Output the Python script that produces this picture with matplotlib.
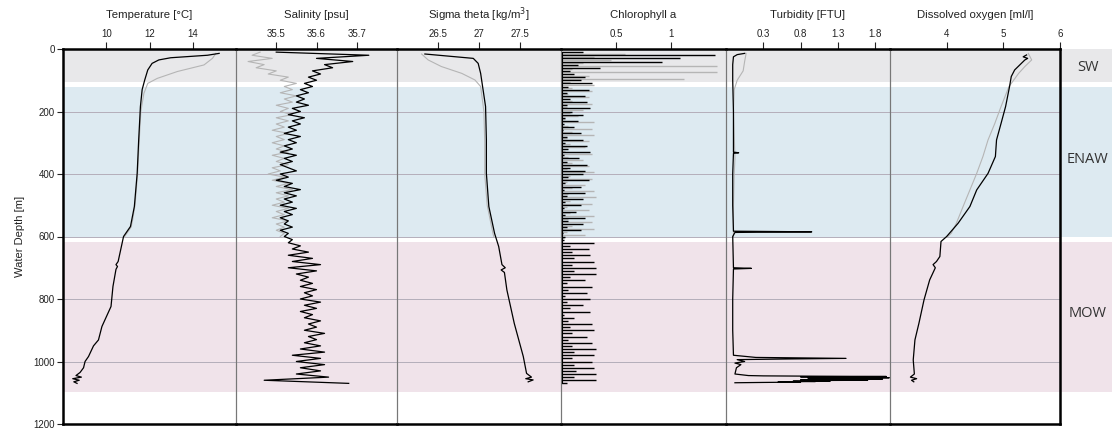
import matplotlib.pyplot as plt
import numpy as np

plt.rcParams['font.family'] = ['Liberation Sans', 'DejaVu Sans']

# water masses (depth ranges in m)
mass_names = ['SW', 'ENAW', 'MOW']
mass_top = [0, 120, 616]
mass_bottom = [105, 600, 1096]
mass_label_depth = [58, 355, 845]
mass_colors = ['#e8e8ea', '#ddeaf1', '#f0e3ea']

# Temperature [°C]
temp_depth_black = [14, 20, 28, 35, 46, 67, 99, 130, 184, 291, 398, 504, 568, 600, 632, 680, 690, 696,
                    705, 760, 824, 888, 931, 950, 984, 1000, 1020, 1035, 1045, 1050, 1055, 1060, 1065, 1070]
temp_black = [15.22, 14.68, 12.98, 12.43, 12.12, 11.92, 11.78, 11.66, 11.58, 11.50, 11.43, 11.30, 11.12,
              10.80, 10.70, 10.55, 10.45, 10.52, 10.45, 10.31, 10.22, 9.80, 9.64, 9.41, 9.18, 9.02, 8.95,
              8.79, 8.60, 8.85, 8.45, 8.75, 8.50, 8.65]
temp_depth_grey = [14, 30, 51, 72, 94, 110, 142, 200, 300, 400, 500, 547, 570, 600]
temp_grey = [15.07, 14.91, 14.52, 13.29, 12.36, 11.92, 11.74, 11.60, 11.52, 11.45, 11.33, 11.22, 11.15, 10.85]

# Salinity [psu], every 10 m
sal_depth_black = list(range(10, 1080, 10))
sal_black = [35.50, 35.73, 35.60, 35.69, 35.62, 35.64, 35.59, 35.61, 35.58, 35.60,
             35.57, 35.59, 35.56, 35.58, 35.55, 35.57, 35.55, 35.58, 35.54, 35.56,
             35.53, 35.57, 35.54, 35.56, 35.53, 35.55, 35.52, 35.56, 35.53, 35.55,
             35.52, 35.54, 35.51, 35.55, 35.52, 35.54, 35.51, 35.53, 35.55, 35.51,
             35.53, 35.50, 35.54, 35.52, 35.56, 35.52, 35.55, 35.52, 35.54, 35.51,
             35.55, 35.52, 35.54, 35.51, 35.53, 35.52, 35.54, 35.51, 35.53, 35.52,
             35.54, 35.53, 35.56, 35.54, 35.58, 35.53, 35.59, 35.54, 35.61, 35.53,
             35.60, 35.55, 35.58, 35.56, 35.59, 35.56, 35.60, 35.57, 35.59, 35.56,
             35.61, 35.57, 35.60, 35.56, 35.59, 35.57, 35.61, 35.58, 35.60, 35.57,
             35.62, 35.58, 35.60, 35.57, 35.61, 35.56, 35.62, 35.54, 35.61, 35.55,
             35.62, 35.56, 35.61, 35.55, 35.63, 35.47, 35.68]
sal_depth_grey = list(range(10, 610, 10))
sal_grey = [35.46, 35.44, 35.49, 35.43, 35.47, 35.45, 35.50, 35.48, 35.53, 35.51,
            35.55, 35.52, 35.54, 35.51, 35.55, 35.52, 35.54, 35.50, 35.53, 35.51,
            35.54, 35.50, 35.53, 35.50, 35.52, 35.49, 35.53, 35.50, 35.52, 35.49,
            35.52, 35.50, 35.53, 35.49, 35.52, 35.50, 35.53, 35.49, 35.51, 35.48,
            35.52, 35.49, 35.53, 35.50, 35.54, 35.50, 35.53, 35.50, 35.52, 35.49,
            35.53, 35.50, 35.52, 35.49, 35.53, 35.50, 35.52, 35.50, 35.52, 35.51]

# Sigma theta [kg/m3]
sig_depth_black = [16, 30, 46, 78, 131, 184, 291, 398, 504, 590, 632, 690, 700, 707, 715, 771, 878, 984,
                   1038, 1050, 1055, 1059, 1065]
sig_black = [26.34, 26.93, 26.99, 27.02, 27.05, 27.08, 27.09, 27.09, 27.12, 27.19, 27.24, 27.28, 27.32,
             27.27, 27.31, 27.34, 27.43, 27.54, 27.58, 27.64, 27.57, 27.66, 27.60]
sig_depth_grey = [16, 35, 56, 78, 99, 120, 200, 300, 400, 500, 590, 600]
sig_grey = [26.30, 26.38, 26.54, 26.79, 26.95, 27.02, 27.06, 27.07, 27.07, 27.10, 27.17, 27.18]

# Chlorophyll a, spike length every 10 m
chl_depth_black = list(range(10, 1080, 10))
chl_black = [0.20, 1.40, 1.08, 0.92, 0.15, 0.35, 0.08, 0.12, 0.22, 0.18,
             0.28, 0.06, 0.25, 0.05, 0.22, 0.08, 0.24, 0.05, 0.26, 0.10,
             0.20, 0.04, 0.15, 0.03, 0.12, 0.02, 0.18, 0.05, 0.20, 0.04,
             0.24, 0.06, 0.26, 0.03, 0.16, 0.05, 0.24, 0.08, 0.22, 0.20,
             0.06, 0.25, 0.04, 0.18, 0.03, 0.22, 0.05, 0.20, 0.04, 0.18,
             0.03, 0.14, 0.04, 0.22, 0.06, 0.20, 0.05, 0.18, 0.02, 0.04,
             0.03, 0.30, 0.08, 0.25, 0.10, 0.26, 0.12, 0.30, 0.10, 0.32,
             0.12, 0.32, 0.08, 0.22, 0.05, 0.28, 0.06, 0.24, 0.04, 0.26,
             0.05, 0.20, 0.08, 0.26, 0.03, 0.12, 0.06, 0.28, 0.08, 0.30,
             0.10, 0.24, 0.06, 0.28, 0.10, 0.32, 0.12, 0.30, 0.10, 0.28,
             0.12, 0.30, 0.14, 0.32, 0.12, 0.32, 0.05]
chl_depth_grey = list(range(15, 615, 10))
chl_grey = [0.58, 0.30, 0.45, 0.20, 1.42, 0.10, 1.42, 0.25, 1.12, 0.08,
            0.30, 0.10, 0.28, 0.06, 0.25, 0.10, 0.28, 0.05, 0.20, 0.08,
            0.15, 0.04, 0.30, 0.06, 0.28, 0.10, 0.30, 0.05, 0.25, 0.08,
            0.22, 0.04, 0.28, 0.06, 0.20, 0.10, 0.25, 0.05, 0.30, 0.08,
            0.28, 0.05, 0.22, 0.10, 0.30, 0.06, 0.32, 0.08, 0.28, 0.05,
            0.25, 0.08, 0.30, 0.06, 0.28, 0.10, 0.30, 0.05, 0.22, 0.03]

# Turbidity [FTU]
turb_depth_black = [14, 18, 25, 50, 100, 200, 300, 330, 332, 334, 400, 500, 583, 585, 587, 600, 700, 702,
                    704, 800, 900, 980, 987, 990, 992, 994, 1000, 1005, 1010, 1020, 1040, 1045,
                    1046, 1047, 1048, 1049, 1050, 1051, 1052, 1053, 1054, 1055, 1056, 1057, 1058, 1059,
                    1060, 1061, 1062, 1063, 1064, 1065, 1066, 1067, 1068]
turb_black = [0.05, -0.05, -0.10, -0.11, -0.11, -0.10, -0.10, -0.10, -0.03, -0.10, -0.11, -0.11, -0.10,
              0.95, -0.08, -0.11, -0.10, 0.14, -0.10, -0.11, -0.11, -0.10, 0.20, 1.41, 0.60, -0.05, 0.05,
              -0.08, 0.00, -0.06, -0.08, 0.10,
              0.30, 1.00, 1.95, 0.80, 1.40, 0.90, 1.99, 1.10, 1.60, 0.90, 1.90, 1.00, 1.30, 0.80,
              1.70, 0.90, 1.20, 0.70, 1.00, 0.50, 0.80, 0.30, -0.08]
turb_depth_grey = [14, 40, 70, 100, 130, 200, 350, 400, 500, 600]
turb_grey = [0.07, 0.05, 0.03, -0.05, -0.09, -0.10, -0.08, -0.09, -0.10, -0.10]

# Dissolved oxygen [ml/l]
oxy_depth_black = [19, 25, 30, 35, 51, 67, 88, 120, 184, 238, 291, 344, 398, 451, 504, 558, 600, 616, 664,
                   680, 690, 700, 739, 803, 878, 931, 995, 1040, 1050, 1055, 1060, 1065]
oxy_black = [5.41, 5.35, 5.43, 5.38, 5.29, 5.20, 5.14, 5.11, 5.04, 4.96, 4.88, 4.86, 4.73, 4.53, 4.41, 4.20,
             4.00, 3.90, 3.88, 3.82, 3.76, 3.80, 3.70, 3.60, 3.51, 3.44, 3.41, 3.43, 3.36, 3.47, 3.38, 3.42]
oxy_depth_grey = [14, 35, 56, 78, 120, 184, 238, 291, 344, 398, 451, 504, 558, 590, 600]
oxy_grey = [5.44, 5.50, 5.38, 5.27, 5.10, 4.96, 4.85, 4.73, 4.64, 4.53, 4.41, 4.29, 4.17, 4.08, 4.02]

panels = [
    ('Temperature [°C]', (8, 16), [10, 12, 14], ['10', '12', '14'],
     temp_depth_grey, temp_grey, temp_depth_black, temp_black),
    ('Salinity [psu]', (35.4, 35.8), [35.5, 35.6, 35.7], ['35.5', '35.6', '35.7'],
     sal_depth_grey, sal_grey, sal_depth_black, sal_black),
    ('Sigma theta [kg/m$^3$]', (26, 28), [26.5, 27, 27.5], ['26.5', '27', '27.5'],
     sig_depth_grey, sig_grey, sig_depth_black, sig_black),
    ('Chlorophyll a', (0, 1.5), [0.5, 1], ['0.5', '1'],
     chl_depth_grey, chl_grey, chl_depth_black, chl_black),
    ('Turbidity [FTU]', (-0.2, 2.0), [0.3, 0.8, 1.3, 1.8], ['0.3', '0.8', '1.3', '1.8'],
     turb_depth_grey, turb_grey, turb_depth_black, turb_black),
    ('Dissolved oxygen [ml/l]', (3, 6), [4, 5, 6], ['4', '5', '6'],
     oxy_depth_grey, oxy_grey, oxy_depth_black, oxy_black),
]

W, H = 1112, 430
fig = plt.figure(figsize=(W / 100, H / 100), dpi=100)
edges = [63, 236, 397, 561, 726, 890, 1060]
y_top, y_bot = 49, 424
fb = 1 - y_bot / H
fh = (y_bot - y_top) / H

# background axis carrying the water mass bands out to the right edge
bg = fig.add_axes([edges[0] / W, fb, (W - edges[0]) / W, fh])
bg.set_xlim(0, 1)
bg.set_ylim(1200, 0)
bg.axis('off')
for name, t, b, ld, c in zip(mass_names, mass_top, mass_bottom, mass_label_depth, mass_colors):
    bg.axhspan(t, b, color=c, lw=0)
    bg.text((1088 - edges[0]) / (W - edges[0]), ld, name, ha='center', va='center',
            fontsize=10.5, color='#333333', family=['Open Sans', 'DejaVu Sans'])

for i, (title, xlim, ticks, tlabels, dg, vg, dk, vk) in enumerate(panels):
    ax = fig.add_axes([edges[i] / W, fb, (edges[i + 1] - edges[i]) / W, fh])
    ax.patch.set_alpha(0)
    ax.set_xlim(*xlim)
    ax.set_ylim(1200, 0)
    for d in [200, 400, 600, 800, 1000]:
        ax.axhline(d, color='#b4aeba', lw=0.7, zorder=1)
    if title == 'Chlorophyll a':
        # spiky record: draw each sample as a streak from the left edge
        ax.hlines(dg, 0.005, vg, color='#b5b5b5', lw=1.0, zorder=2)
        ax.hlines(dk, 0.005, vk, color='black', lw=1.0, zorder=3)
        ax.plot([0.01] * len(dk), dk, color='black', lw=0.8, zorder=3)
    else:
        ax.plot(vg, dg, color='#b5b5b5', lw=0.8, zorder=2)
        ax.plot(vk, dk, color='black', lw=0.9, zorder=3)
    ax.xaxis.tick_top()
    ax.xaxis.set_label_position('top')
    ax.set_xticks(ticks)
    ax.set_xticklabels(tlabels)
    ax.set_xlabel(title, fontsize=8.2, color='#222222', labelpad=8)
    ax.tick_params(axis='x', direction='out', length=5, width=0.8, labelsize=7,
                   colors='#222222', pad=2)
    for side in ['top', 'bottom']:
        ax.spines[side].set_linewidth(1.8)
        ax.spines[side].set_color('black')
    ax.spines['left'].set_linewidth(0.8)
    ax.spines['left'].set_color('#777777')
    ax.spines['right'].set_linewidth(0.8)
    ax.spines['right'].set_color('#777777')
    if i == 0:
        ax.spines['left'].set_linewidth(1.8)
        ax.spines['left'].set_color('black')
        ax.set_yticks([0, 200, 400, 600, 800, 1000, 1200])
        ax.tick_params(axis='y', direction='out', length=4, width=0.8, labelsize=7,
                       colors='#222222', pad=2)
        ax.set_ylabel('Water Depth [m]', fontsize=8, color='#222222', labelpad=6)
    else:
        ax.set_yticks([])
    if i == len(panels) - 1:
        ax.spines['right'].set_linewidth(1.8)
        ax.spines['right'].set_color('black')

fig.savefig('out.png', dpi=100)
